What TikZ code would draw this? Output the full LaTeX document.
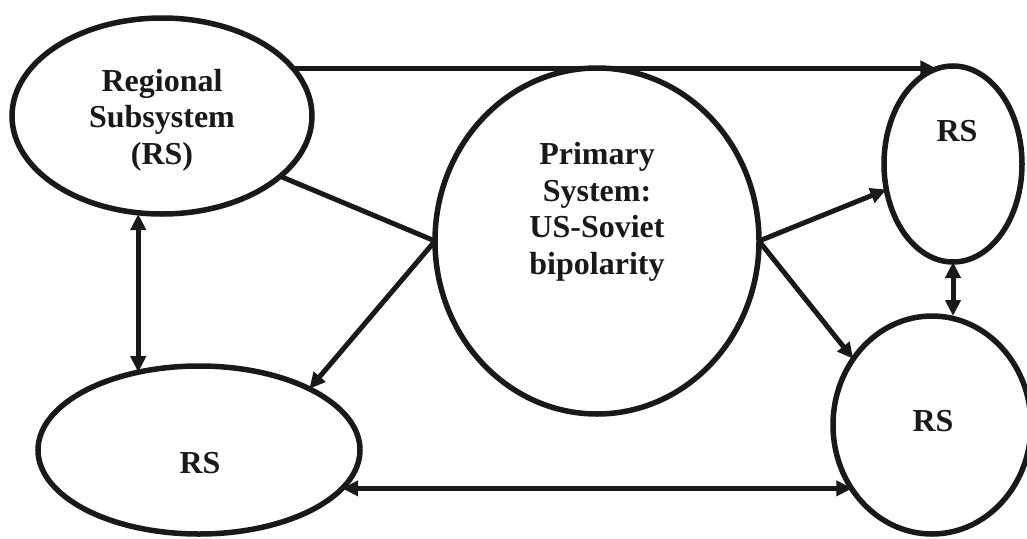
\documentclass[tikz,border=0pt]{standalone}
\usepackage{fontspec}
\setmainfont{Liberation Serif}
\usetikzlibrary{shapes.geometric,arrows.meta,calc}
\begin{document}
\begin{tikzpicture}[x=1pt,y=-1pt,
  oval/.style={draw=black!90,line width=5.5pt,ellipse,inner sep=0pt,outer sep=0pt},
  lbl/.style={font=\fontsize{32}{36.5}\selectfont\bfseries,align=center,text=black!90,inner sep=0pt},
  conn/.style={draw=black!90,line width=5pt},
  arr/.style={conn,-{Triangle[length=16pt,width=15pt]}},
  dbl/.style={conn,{Triangle[length=16pt,width=15pt]}-{Triangle[length=16pt,width=15pt]}}]
\useasboundingbox (0,0) rectangle (1027,538);
\node[oval,minimum width=300pt,minimum height=196pt] (tl) at (162,116) {};
\node[oval,minimum width=324pt,minimum height=346pt] (prim) at (597,241) {};
\node[oval,minimum width=138pt,minimum height=196pt] (tr) at (953,164) {};
\node[oval,minimum width=198pt,minimum height=218pt] (br) at (932,425) {};
\node[oval,minimum width=322pt,minimum height=168pt] (bl) at (199,450) {};
\node[lbl] (tlt) at (162,120) {Regional\\Subsystem\\(RS)};
\node[lbl] (pt) at (597,212) {Primary\\System:\\US-Soviet\\bipolarity};
\node[lbl] (trt) at (957,131) {RS};
\node[lbl] (brt) at (933,421) {RS};
\node[lbl] (blt) at (200,463) {RS};
\draw[arr] (tl.20) -- (tl.20 -| tr.100);
\draw[conn] (tl.-27) -- (prim.west);
\draw[arr] (prim.west) -- (bl.29);
\draw[dbl] (tl.south -| bl.128) -- (bl.128);
\draw[arr] (prim.east) -- (tr.201);
\draw[arr] (prim.east) -- (br.140);
\draw[dbl] (tr.south) -- (tr.south |- br.north);
\draw[dbl] (bl.-15.6) -- (bl.-15.6 -| br.-141);
\end{tikzpicture}
\end{document}
